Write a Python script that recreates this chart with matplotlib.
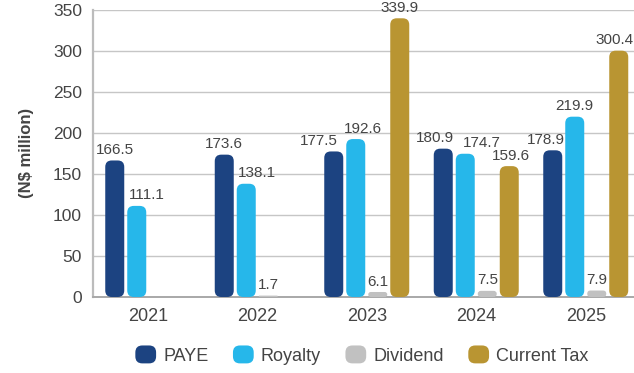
import matplotlib
matplotlib.use("Agg")
import matplotlib.pyplot as plt
from matplotlib.patches import FancyBboxPatch
from matplotlib.legend_handler import HandlerPatch
import numpy as np

plt.rcParams['font.family'] = ['Liberation Sans', 'DejaVu Sans']

years = ['2021', '2022', '2023', '2024', '2025']
series = ['PAYE', 'Royalty', 'Dividend', 'Current Tax']
paye = [166.5, 173.6, 177.5, 180.9, 178.9]
royalty = [111.1, 138.1, 192.6, 174.7, 219.9]
dividend = [None, 1.7, 6.1, 7.5, 7.9]
current_tax = [None, None, 339.9, 159.6, 300.4]
colors = ['#1c4381', '#26b7ea', '#c1c1c1', '#b99532']

# small sideways nudges (points) for value labels that would otherwise collide
label_nudge = [
    [0, 0, -11, -6, -5],
    [7, 8, 5, 12, 0],
    [0, 0, 0, 0, 0],
    [0, 0, 0, 1, -3],
]

W, H = 634, 373
fig = plt.figure(figsize=(W / 100, H / 100), dpi=100)
ax_left, ax_right, ax_top, ax_bot = 93, 640.5, 10, 297
ax = fig.add_axes([ax_left / W, 1 - ax_bot / H, (ax_right - ax_left) / W, (ax_bot - ax_top) / H])
ax.set_xlim(-0.5, 4.5)
ax.set_ylim(0, 350)

px_x = (ax_right - ax_left) / 5.0      # pixels per x unit
px_y = (ax_bot - ax_top) / 350.0       # pixels per y unit
aspect = (1 / px_y) / (1 / px_x)

bar_w = 19 / px_x
step = 22 / px_x
offsets = (np.arange(4) - 1.5) * step
text_col = '#444444'

data = [paye, royalty, dividend, current_tax]
for s, vals in enumerate(data):
    for i, v in enumerate(vals):
        if v is None:
            continue
        h_px = v * px_y
        r_px = min(6.5, h_px / 2)
        x0 = i + offsets[s] - bar_w / 2
        patch = FancyBboxPatch((x0, 0), bar_w, v,
                               boxstyle=f"round,pad=0,rounding_size={r_px / px_x}",
                               mutation_aspect=aspect, fc=colors[s], ec='none', zorder=3)
        ax.add_patch(patch)
        ax.annotate(f"{v:.1f}", (i + offsets[s], v), xytext=(label_nudge[s][i], 7.5),
                    textcoords='offset points', ha='center', va='center',
                    fontsize=11, color=text_col, zorder=4)

ax.set_yticks(np.arange(0, 351, 50))
ax.set_xticks(np.arange(5))
ax.set_xticklabels(years)
ax.tick_params(axis='both', length=0, colors=text_col)
ax.tick_params(axis='y', pad=8, labelsize=12.5)
ax.tick_params(axis='x', pad=8, labelsize=13)
ax.grid(axis='y', color='#c6c6c6', linewidth=1.0, zorder=0)
ax.set_axisbelow(True)
for side in ['top', 'right']:
    ax.spines[side].set_visible(False)
ax.spines['left'].set_color('#bcbcbc')
ax.spines['left'].set_linewidth(1.6)
ax.spines['bottom'].set_color('#a8a8a8')
ax.spines['bottom'].set_linewidth(1.4)

fig.text(27 / W, 1 - 153 / H, '(N$ million)', rotation=90, ha='center', va='center',
         fontsize=12, fontweight='bold', color=text_col)


class RoundHandle(HandlerPatch):
    def create_artists(self, legend, orig_handle, xdescent, ydescent,
                       width, height, fontsize, trans):
        p = FancyBboxPatch((-xdescent, -ydescent), width, height,
                           boxstyle="round,pad=0,rounding_size=5",
                           fc=orig_handle.get_facecolor(), ec='none', transform=trans)
        return [p]


handles = [plt.Rectangle((0, 0), 1, 1, fc=c) for c in colors]
fig.legend(handles, series, loc='center', bbox_to_anchor=(362 / W, 1 - 355 / H),
           ncol=4, frameon=False, fontsize=13, handlelength=1.15, handleheight=1.15,
           handletextpad=0.4, columnspacing=1.35, labelcolor=text_col,
           handler_map={plt.Rectangle: RoundHandle()})

fig.savefig('out.png', dpi=100)
